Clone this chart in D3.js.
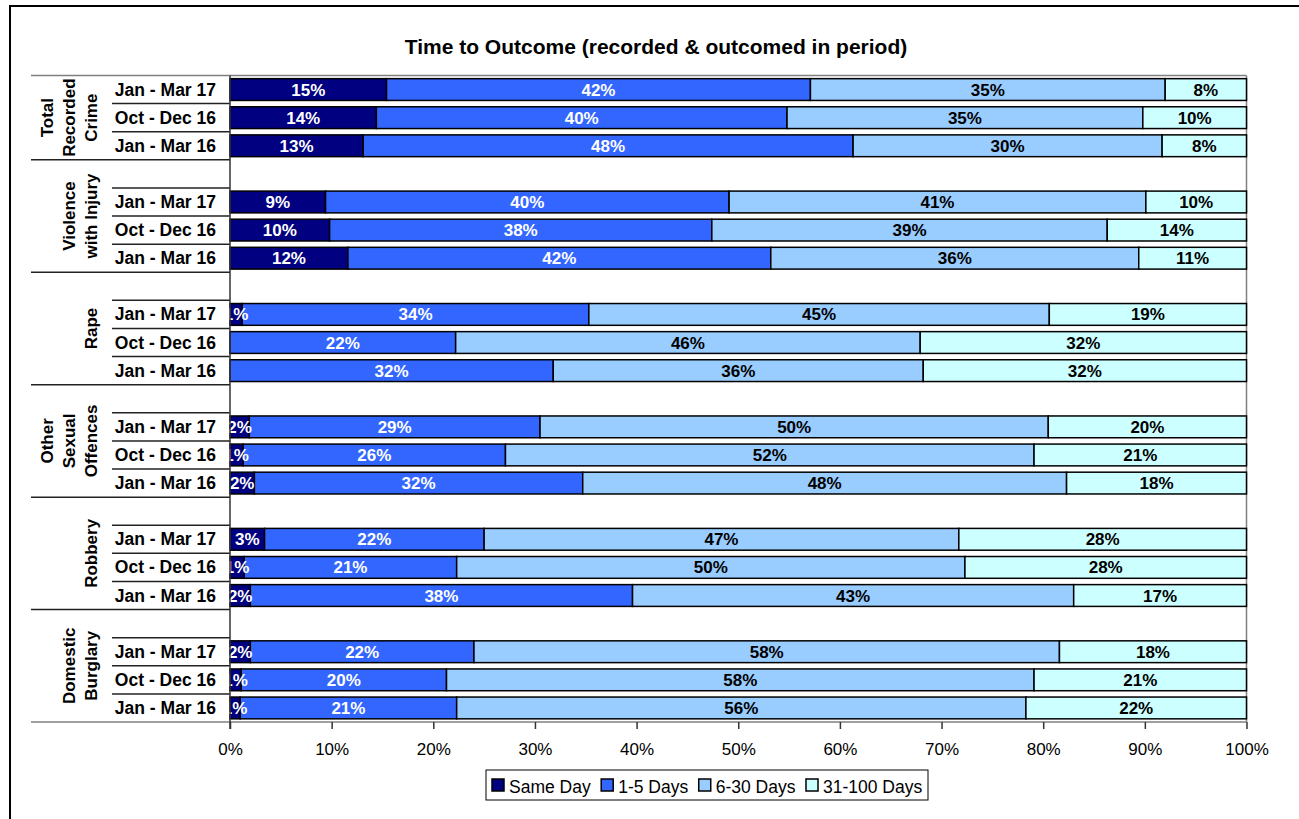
<!DOCTYPE html>
<html>
<head>
<meta charset="utf-8">
<script src="https://cdn.jsdelivr.net/npm/d3@7"></script>
<style>
  html, body { margin: 0; padding: 0; background: #fff; }
  svg { display: block; font-family: Arial, "Liberation Sans", sans-serif; }
</style>
</head>
<body>
<svg id="chart" width="1299" height="819"></svg>
<script>
// Offence groups and the label lines used on the rotated group axis
const groups = ["Total Recorded Crime", "Violence with Injury", "Rape", "Other Sexual Offences", "Robbery", "Domestic Burglary"];
const groupLines = [["Total", "Recorded", "Crime"], ["Violence", "with Injury"], ["Rape"], ["Other", "Sexual", "Offences"], ["Robbery"], ["Domestic", "Burglary"]];
const periods = ["Jan - Mar 17", "Oct - Dec 16", "Jan - Mar 16"];
const seriesNames = ["Same Day", "1-5 Days", "6-30 Days", "31-100 Days"];
const seriesColors = ["#000080", "#3366FF", "#99CCFF", "#CCFFFF"];
const labelColors = ["#fff", "#fff", "#000", "#000"];
const xTicks = [0, 10, 20, 30, 40, 50, 60, 70, 80, 90, 100];

// Share of outcomes (%) per row: groups in order, periods in order within each group
const sameDay     = [15.4, 14.4, 13.1,   9.4,  9.8, 11.6,   1.2,  0.0,  0.0,   1.9,  1.3,  2.4,   3.4,  1.4,  2.0,   2.0,  1.1,  1.0];
const days1to5    = [41.7, 40.4, 48.2,  39.7, 37.6, 41.6,  34.1, 22.2, 31.8,  28.6, 25.8, 32.3,  21.6, 20.9, 37.6,  22.0, 20.2, 21.3];
const days6to30   = [34.9, 35.0, 30.4,  41.0, 38.9, 36.2,  45.3, 45.7, 36.4,  50.0, 52.0, 47.6,  46.7, 50.0, 43.4,  57.6, 57.8, 56.0];
const days31to100 = [ 8.0, 10.2,  8.3,   9.9, 13.7, 10.6,  19.4, 32.1, 31.8,  19.5, 20.9, 17.7,  28.3, 27.7, 17.0,  18.4, 20.9, 21.7];

const seriesValues = [sameDay, days1to5, days6to30, days31to100];

// Build rows and category slots (every group after the first opens with an empty slot)
const rows = [];
const slots = [];
groups.forEach((g, gi) => {
  if (gi > 0) slots.push(g + "|blank");
  periods.forEach((p, pi) => {
    const idx = gi * periods.length + pi;
    const key = g + "|" + p;
    slots.push(key);
    const row = { key, group: g, period: p };
    seriesNames.forEach((s, si) => row[s] = seriesValues[si][idx]);
    rows.push(row);
  });
});

const svg = d3.select("#chart");
const W = 1299, H = 819;
const plot = { left: 230, right: 1246.5, top: 75.5, bottom: 722 };

// outer frame
svg.append("rect").attr("x", 10).attr("y", 6).attr("width", W + 10).attr("height", H + 10)
  .attr("fill", "#fff").attr("stroke", "#000").attr("stroke-width", 2);

// title
svg.append("text").attr("x", 656).attr("y", 54).attr("text-anchor", "middle")
  .attr("font-size", 21).attr("font-weight", "bold").text("Time to Outcome (recorded & outcomed in period)");

const x = d3.scaleLinear().domain([0, 100]).range([plot.left, plot.right]);
const y = d3.scaleBand().domain(slots).range([plot.top, plot.bottom]).paddingInner(0.225).paddingOuter(0.1125);

const stack = d3.stack().keys(seriesNames);
const stacked = stack(rows);

// plot-area border (top and right)
svg.append("line").attr("x1", 31).attr("x2", plot.right).attr("y1", plot.top).attr("y2", plot.top)
  .attr("stroke", "#808080").attr("stroke-width", 1.5);
svg.append("line").attr("x1", plot.right).attr("x2", plot.right).attr("y1", plot.top).attr("y2", plot.bottom)
  .attr("stroke", "#808080").attr("stroke-width", 1.5);

// bars
const layers = svg.append("g").selectAll("g").data(stacked).join("g")
  .attr("fill", (d, i) => seriesColors[i]);
layers.selectAll("rect").data(d => d.filter(s => s[1] - s[0] > 0)).join("rect")
  .attr("x", d => x(d[0]))
  .attr("y", d => y(d.data.key))
  .attr("width", d => x(d[1]) - x(d[0]))
  .attr("height", y.bandwidth())
  .attr("stroke", "#000").attr("stroke-width", 1.5);

// category separators: short ticks between rows, long ones between groups
const step = y.step();
const sep = svg.append("g").attr("stroke", "#222").attr("stroke-width", 1.5);
slots.forEach((s, i) => {
  if (i === 0) return;
  const yy = plot.top + i * step;
  const groupStart = s.endsWith("|blank");
  sep.append("line").attr("x1", groupStart ? 31 : 112).attr("x2", plot.left)
    .attr("y1", yy).attr("y2", yy);
});
svg.append("line").attr("x1", 31).attr("x2", plot.right).attr("y1", plot.bottom).attr("y2", plot.bottom)
  .attr("stroke", "#808080").attr("stroke-width", 1.5);

// period labels
svg.append("g").selectAll("text").data(rows).join("text")
  .attr("x", 216).attr("y", d => y(d.key) + y.bandwidth() / 2 + 6)
  .attr("text-anchor", "end").attr("font-size", 17.5).attr("font-weight", "bold")
  .text(d => d.period);

// group labels, rotated
groups.forEach((g, gi) => {
  const first = gi === 0 ? slots.indexOf(g + "|" + periods[0]) : slots.indexOf(g + "|blank");
  const last = slots.indexOf(g + "|" + periods[periods.length - 1]);
  const cy = plot.top + ((first + last + 1) / 2) * step;
  const lines = groupLines[gi];
  const t = svg.append("text")
    .attr("transform", `translate(0,${cy}) rotate(-90)`)
    .attr("text-anchor", "middle").attr("font-size", 17).attr("font-weight", "bold");
  lines.forEach((ln, li) => {
    t.append("tspan").attr("x", 0).attr("y", 96.5 - (lines.length - 1 - li) * 22).text(ln);
  });
});

// x axis
const xAxis = d3.axisBottom(x).tickValues(xTicks).tickFormat(d => d + "%").tickSize(7).tickPadding(14);
const ax = svg.append("g").attr("transform", `translate(0,${plot.bottom})`).call(xAxis);
ax.select(".domain").remove();
ax.selectAll(".tick line").attr("stroke", "#333").attr("stroke-width", 1.5);
ax.selectAll(".tick text").attr("font-size", 17).attr("font-family", "Arial, 'Liberation Sans', sans-serif").attr("fill", "#000");

// data labels, taken from each row's own value
const lab = svg.append("g").attr("font-size", 17).attr("font-weight", "bold").attr("text-anchor", "middle");
stacked.forEach((layer, si) => {
  layer.forEach(d => {
    const v = d.data[seriesNames[si]];
    if (v <= 0) return;
    lab.append("text")
      .attr("x", (x(d[0]) + x(d[1])) / 2)
      .attr("y", y(d.data.key) + y.bandwidth() / 2 + 6)
      .attr("fill", labelColors[si])
      .text(Math.round(v) + "%");
  });
});

// value axis line, drawn over the labels
svg.append("line").attr("x1", plot.left).attr("x2", plot.left).attr("y1", plot.top).attr("y2", plot.bottom + 7)
  .attr("stroke", "#333").attr("stroke-width", 1.5);

// legend: swatch + name, items laid out left to right inside a framed box
const lg = svg.append("g");
lg.append("rect").attr("x", 486).attr("y", 770).attr("width", 442).attr("height", 30)
  .attr("fill", "#fff").attr("stroke", "#000").attr("stroke-width", 1);
let lx = 492;
seriesNames.forEach((s, i) => {
  lg.append("rect").attr("x", lx).attr("y", 779).attr("width", 12).attr("height", 12)
    .attr("fill", seriesColors[i]).attr("stroke", "#000").attr("stroke-width", 1.5);
  const t = lg.append("text").attr("x", lx + 17).attr("y", 792.5).attr("font-size", 17.5).text(s);
  lx += 17 + t.node().getComputedTextLength() + 10.5;
});
</script>
</body>
</html>
